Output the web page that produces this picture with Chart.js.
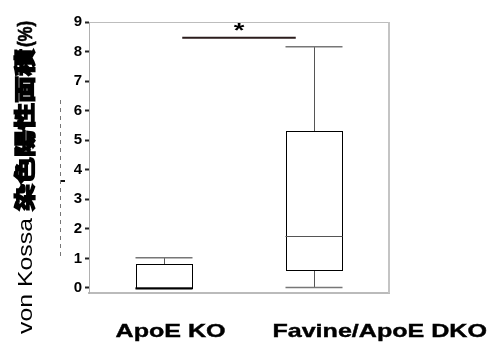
<!DOCTYPE html>
<html>
<head>
<meta charset="utf-8">
<script src="https://cdn.jsdelivr.net/npm/chart.js@4.4.1/dist/chart.umd.min.js"></script>
<style>
  html, body { margin: 0; padding: 0; background: #fff; }
  #wrap { width: 493px; height: 344px; position: relative; }
</style>
</head>
<body>
<div id="wrap"><canvas id="c" width="493" height="344"></canvas></div>
<script>
// ---- data ----
const categories = ['ApoE KO', 'Favine/ApoE DKO'];
const mins    = [0.00, 0.02];
const q1s     = [0.00, 0.59];
const medians = [0.00, 1.76];
const q3s     = [0.80, 5.30];
const maxs    = [1.02, 8.16];
const yTickValues = [0, 1, 2, 3, 4, 5, 6, 7, 8, 9];
const significance = { from: 0, to: 1, y: 8.47, label: '*' };
const yTitleParts = ['von Kossa', '染色陽性面積', '(%)'];

const LATIN = '"Liberation Sans", Arial, sans-serif';
const CJK = '"Noto Sans CJK JP", "Noto Sans CJK SC", sans-serif';

const boxPlugin = {
  id: 'boxPlugin',
  afterDatasetsDraw(chart) {
    const ctx = chart.ctx;
    const y = chart.scales.y;
    const meta = chart.getDatasetMeta(0);
    ctx.save();
    meta.data.forEach((bar, i) => {
      const cx = bar.x, w = bar.width;
      const left = cx - w / 2, right = cx + w / 2;
      const pMin = y.getPixelForValue(mins[i]);
      const pMax = y.getPixelForValue(maxs[i]);
      const pQ1 = y.getPixelForValue(q1s[i]);
      const pQ3 = y.getPixelForValue(q3s[i]);
      const pMed = y.getPixelForValue(medians[i]);
      // whiskers
      ctx.strokeStyle = '#555';
      ctx.lineWidth = 1;
      ctx.beginPath();
      ctx.moveTo(Math.round(cx) + 0.5, pQ3); ctx.lineTo(Math.round(cx) + 0.5, pMax);
      if (pMin - pQ1 > 1) { ctx.moveTo(Math.round(cx) + 0.5, pQ1); ctx.lineTo(Math.round(cx) + 0.5, pMin); }
      ctx.stroke();
      // caps
      ctx.strokeStyle = '#777';
      ctx.lineWidth = 1.5;
      ctx.beginPath();
      ctx.moveTo(left, pMax); ctx.lineTo(right, pMax);
      ctx.moveTo(left, pMin); ctx.lineTo(right, pMin);
      ctx.stroke();
      // box outline on top
      ctx.strokeStyle = '#000';
      ctx.lineWidth = 1;
      ctx.strokeRect(Math.round(left) + 0.5, Math.round(pQ3) + 0.5, Math.round(w) - 1, Math.round(pQ1 - pQ3));
      // median
      ctx.strokeStyle = medians[i] === q1s[i] ? '#000' : '#555';
      ctx.lineWidth = medians[i] === q1s[i] ? 2 : 1;
      ctx.beginPath();
      ctx.moveTo(left, Math.round(pMed) + 0.5); ctx.lineTo(right, Math.round(pMed) + 0.5);
      ctx.stroke();
    });
    // significance bar
    const b0 = meta.data[significance.from], b1 = meta.data[significance.to];
    const sy = y.getPixelForValue(significance.y);
    const x0 = b0.x + b0.width * 0.32, x1 = b1.x - b1.width * 0.32;
    ctx.strokeStyle = '#2b1d1d';
    ctx.lineWidth = 2;
    ctx.beginPath(); ctx.moveTo(x0, sy); ctx.lineTo(x1, sy); ctx.stroke();
    ctx.fillStyle = '#000';
    ctx.font = 'bold 21px ' + LATIN;
    ctx.textAlign = 'center';
    ctx.textBaseline = 'alphabetic';
    ctx.save();
    ctx.translate((x0 + x1) / 2, sy - 0.5);
    ctx.scale(1.3, 1);
    ctx.fillText(significance.label, 0, 0);
    ctx.restore();
    ctx.restore();
  },
  afterDraw(chart) {
    const ctx = chart.ctx;
    const a = chart.chartArea;
    const meta = chart.getDatasetMeta(0);
    ctx.save();
    // frame top / right
    ctx.strokeStyle = '#bdbdbd';
    ctx.lineWidth = 1;
    ctx.beginPath();
    ctx.moveTo(a.left, a.top + 0.5); ctx.lineTo(a.right, a.top + 0.5);
    ctx.stroke();
    ctx.lineWidth = 2;
    ctx.strokeStyle = '#c4c4c4';
    ctx.beginPath();
    ctx.moveTo(a.right, a.top); ctx.lineTo(a.right, a.bottom);
    ctx.stroke();
    // x category labels
    ctx.fillStyle = '#000';
    ctx.font = 'bold 19px ' + LATIN;
    ctx.textAlign = 'left';
    ctx.textBaseline = 'alphabetic';
    const labelShift = [-0.35, -0.23];
    categories.forEach((c, i) => {
      const bar = meta.data[i];
      ctx.save();
      ctx.translate(bar.x - bar.width / 2 + labelShift[i] * bar.width, 336.5);
      ctx.scale(1.32, 1);
      ctx.fillText(c, 0, 0);
      ctx.lineWidth = 0.4; ctx.strokeStyle = '#000'; ctx.strokeText(c, 0, 0);
      ctx.restore();
    });
    // y title (rotated, mixed fonts)
    ctx.save();
    ctx.translate(32, 334);
    ctx.rotate(-Math.PI / 2);
    ctx.textAlign = 'left';
    ctx.textBaseline = 'alphabetic';
    const segs = [
      { t: yTitleParts[0], font: '21px ' + LATIN, len: 116, gap: 7, stroke: 0 },
      { t: yTitleParts[1], font: 'bold 21px ' + CJK, len: 162, gap: 2, stroke: 1.5 },
      { t: yTitleParts[2], font: 'bold 21px ' + LATIN, len: 26, gap: 0, stroke: 0.6 }
    ];
    let pos = 0;
    segs.forEach(s => {
      ctx.font = s.font;
      const wNat = ctx.measureText(s.t).width;
      ctx.save();
      ctx.translate(pos, 0);
      ctx.scale(s.len / wNat, 1);
      ctx.fillText(s.t, 0, 0);
      if (s.stroke) { ctx.lineWidth = s.stroke; ctx.strokeStyle = '#000'; ctx.strokeText(s.t, 0, 0); }
      ctx.restore();
      pos += s.len + s.gap;
    });
    ctx.restore();
    // faint dashed artifact at left of axis
    ctx.strokeStyle = '#777';
    ctx.lineWidth = 1;
    ctx.setLineDash([4, 4]);
    ctx.beginPath(); ctx.moveTo(60.5, 100); ctx.lineTo(60.5, 260); ctx.stroke();
    ctx.setLineDash([]);
    ctx.fillStyle = '#111';
    ctx.fillRect(61, 180, 4, 2);
    ctx.restore();
  }
};

new Chart(document.getElementById('c'), {
  type: 'bar',
  data: {
    labels: categories,
    datasets: [{
      data: categories.map((c, i) => [q1s[i], q3s[i]]),
      backgroundColor: '#ffffff',
      borderColor: 'rgba(0,0,0,0)',
      borderWidth: 0,
      categoryPercentage: 1,
      barPercentage: 0.38
    }]
  },
  options: {
    responsive: false,
    animation: false,
    devicePixelRatio: 1,
    layout: { padding: { left: 45, top: 22, right: 104, bottom: 0 } },
    plugins: { legend: { display: false }, tooltip: { enabled: false } },
    scales: {
      x: {
        type: 'category',
        offset: true,
        grid: { display: false },
        ticks: { display: false },
        border: { display: true, color: '#bbbbbb', width: 2 },
        afterFit(s) { s.height = 51; }
      },
      y: {
        type: 'linear',
        min: -0.17,
        max: 9,
        afterBuildTicks(s) { s.ticks = yTickValues.map(v => ({ value: v })); },
        ticks: {
          color: '#000',
          font: { family: LATIN, size: 15, weight: 'bold' },
          padding: 3
        },
        grid: { drawOnChartArea: false, drawTicks: true, tickLength: 4, tickColor: '#222', tickWidth: 2 },
        border: { display: true, color: '#b0b0b0', width: 1 },
        afterFit(s) { s.width = 44; }
      }
    }
  },
  plugins: [boxPlugin]
});
</script>
</body>
</html>
